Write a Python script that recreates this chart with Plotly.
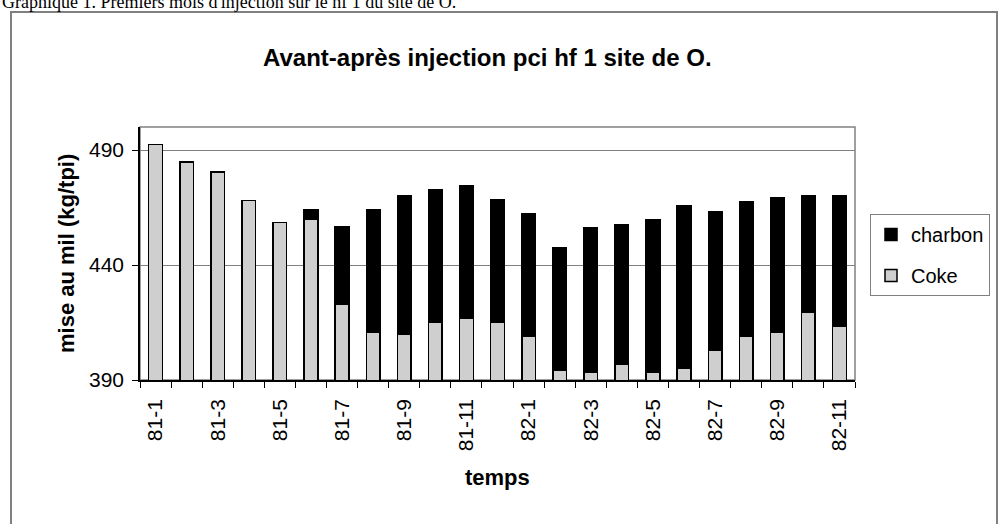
import plotly.graph_objects as go

months = ["81-1", "81-2", "81-3", "81-4", "81-5", "81-6", "81-7", "81-8", "81-9", "81-10",
          "81-11", "81-12", "82-1", "82-2", "82-3", "82-4", "82-5", "82-6", "82-7", "82-8",
          "82-9", "82-10", "82-11"]
coke = [492.5, 484.8, 480.4, 468.1, 458.5, 460.0, 423.1, 410.8, 409.8, 415.1,
        416.8, 415.1, 409.0, 394.1, 393.2, 396.7, 393.2, 394.9, 402.8, 409.0,
        410.7, 419.4, 413.3]
total = [492.5, 484.8, 480.4, 468.1, 458.5, 463.9, 456.8, 463.9, 470.1, 472.7,
         474.4, 468.3, 462.2, 447.3, 456.4, 457.3, 459.6, 465.7, 463.1, 467.4,
         469.2, 470.1, 470.1]
charbon = [round(t - c, 1) for t, c in zip(total, coke)]
y_ticks = [390, 440, 490]
y_range = [390, 500]

W, H = 998, 524
L, R, T, B = 140, 855, 127, 380
PW, PH = R - L, B - T


def px(x):
    return (x - L) / PW


def py(y):
    return (B - y) / PH


FONT = "Liberation Sans, Arial, sans-serif"

fig = go.Figure()
fig.add_trace(go.Bar(
    x=months, y=coke, name="Coke",
    marker=dict(color="#cfcfcf", line=dict(color="#000000", width=1.5)),
    legendgroup="a", legendrank=2,
))
fig.add_trace(go.Bar(
    x=months, y=charbon, name="charbon",
    marker=dict(color="#000000", line=dict(color="#000000", width=1.5)),
    legendgroup="b", legendrank=1,
))

fig.update_layout(
    width=W, height=H,
    margin=dict(l=L, r=W - R, t=T, b=H - B, autoexpand=False),
    paper_bgcolor="white", plot_bgcolor="white",
    barmode="stack", bargap=0.56,
    font=dict(family=FONT, size=20, color="#000"),
    showlegend=True,
    legend=dict(
        x=px(870), y=py(214), xanchor="left", yanchor="top",
        bordercolor="#808080", borderwidth=1, bgcolor="white",
        traceorder="grouped", tracegroupgap=12,
        font=dict(family=FONT, size=20, color="#000"),
        itemwidth=30,
    ),
    xaxis=dict(
        type="category", tickson="boundaries", ticklabelstep=2,
        ticks="outside", ticklen=6, tickcolor="#000", tickwidth=1,
        showline=True, linecolor="#000", linewidth=1.5,
        showgrid=False, tickangle=-90, ticklabelstandoff=9,
        tickfont=dict(family=FONT, size=21, color="#000"),
        automargin=False,
    ),
    yaxis=dict(
        range=y_range, tickvals=y_ticks,
        ticks="outside", ticklen=6, tickcolor="#000",
        showline=True, linecolor="#000", linewidth=1.5,
        showgrid=True, gridcolor="#808080", gridwidth=1,
        zeroline=False, ticklabelstandoff=4,
        tickfont=dict(family=FONT, size=21, color="#000"),
        automargin=False,
    ),
)

shapes = [
    dict(type="rect", xref="paper", yref="paper",
         x0=px(11), x1=px(997), y0=py(540), y1=py(12),
         line=dict(color="#808080", width=2), fillcolor="rgba(0,0,0,0)", layer="below"),
    dict(type="rect", xref="paper", yref="paper", x0=0, x1=1, y0=0, y1=1,
         line=dict(color="#808080", width=1.5), fillcolor="rgba(0,0,0,0)", layer="below"),
]
fig.update_layout(shapes=shapes)

annotations = [
    dict(text="Graphique 1. Premiers mois d'injection sur le hf 1 du site de O.",
         xref="paper", yref="paper", x=px(0), y=py(14), xanchor="left", yanchor="bottom",
         showarrow=False, font=dict(family="Liberation Serif, Times New Roman, serif", size=18, color="#000")),
    dict(text="<b>Avant-après injection pci hf 1 site de O.</b>",
         xref="paper", yref="paper", x=px(487), y=py(57), xanchor="center", yanchor="middle",
         showarrow=False, font=dict(family=FONT, size=24, color="#000")),
    dict(text="<b>mise au mil (kg/tpi)</b>",
         xref="paper", yref="paper", x=px(66), y=py(254), xanchor="center", yanchor="middle",
         textangle=-90, showarrow=False, font=dict(family=FONT, size=22, color="#000")),
    dict(text="<b>temps</b>",
         xref="paper", yref="paper", x=px(497), y=py(477), xanchor="center", yanchor="middle",
         showarrow=False, font=dict(family=FONT, size=22, color="#000")),
]
fig.update_layout(annotations=annotations)

fig.write_html("out.html", config={"displayModeBar": False},
               post_script="document.body.style.margin='0';")
